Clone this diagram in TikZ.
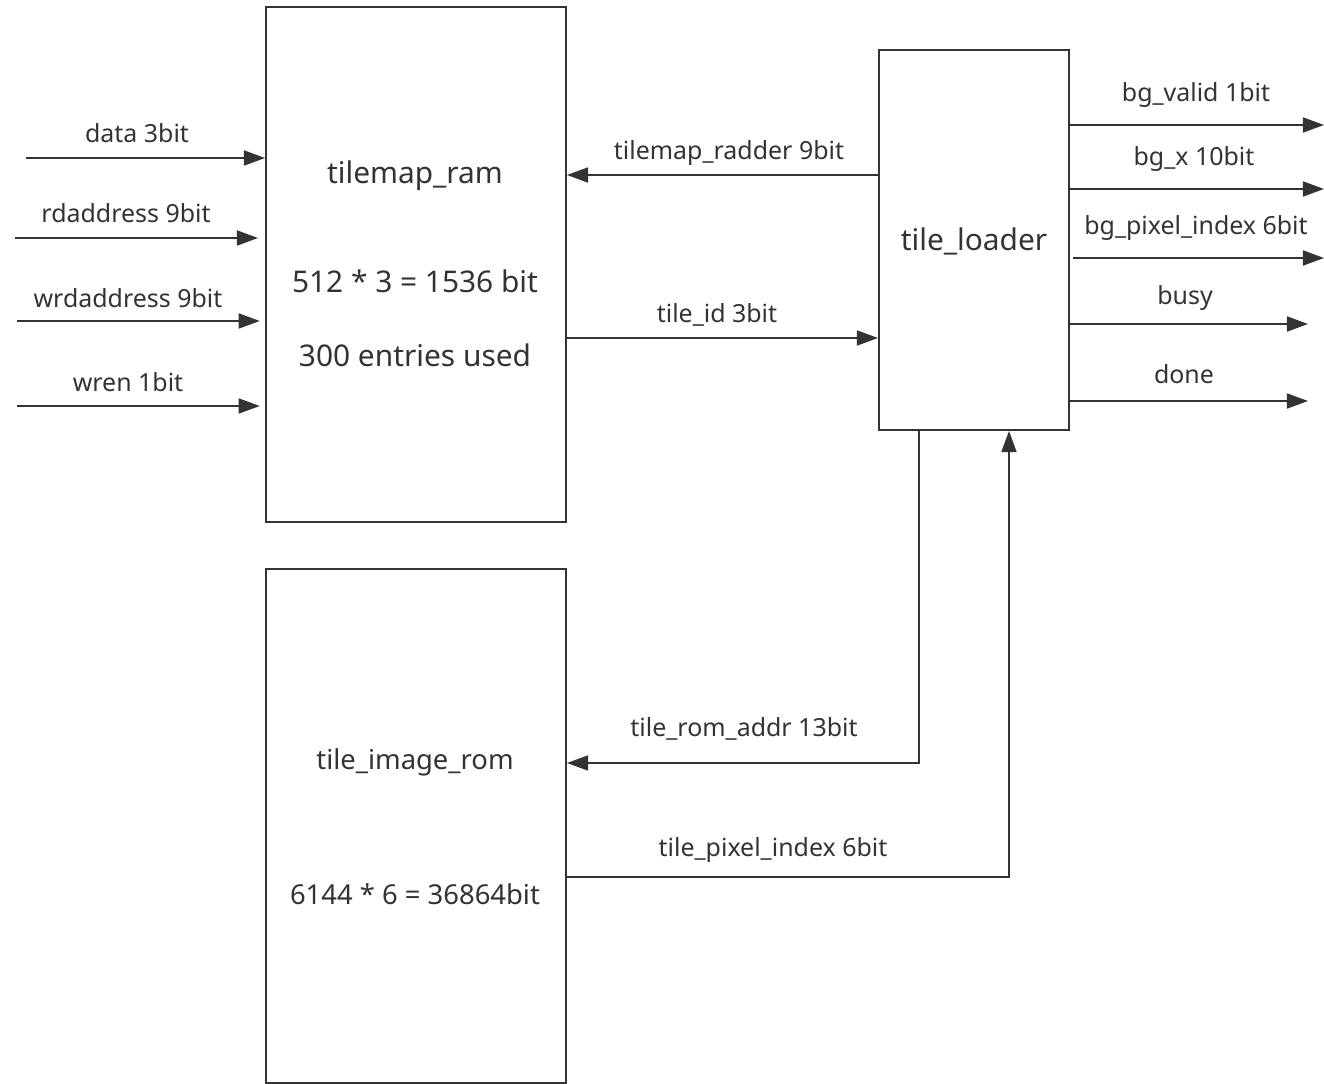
\documentclass[tikz,border=0pt]{standalone}
\usepackage{fontspec}
\setmainfont{Noto Sans}
\usetikzlibrary{arrows.meta}
\definecolor{ink}{HTML}{333333}
\tikzset{
    block/.style={draw=ink, line width=1.1pt, rectangle, inner sep=0pt},
    sig/.style={draw=ink, line width=1.1pt, -{Triangle[length=12pt,width=8.5pt]}},
    lbl/.style={text=ink, font=\fontsize{14.2}{16}\selectfont},
    big/.style={text=ink, font=\fontsize{17}{20}\selectfont},
    romtxt/.style={text=ink, font=\fontsize{15.6}{18}\selectfont}
}
\begin{document}
\begin{tikzpicture}[x=0.02cm, y=-0.02cm]
        \useasboundingbox (0,0) rectangle (1324,1084);
        % blocks
        \node[block, minimum width=6cm, minimum height=10.3cm] (ram)    at (416,264.5) {};
        \node[block, minimum width=6cm, minimum height=10.3cm] (rom)    at (416,826)   {};
        \node[block, minimum width=3.8cm, minimum height=7.6cm] (loader) at (974,240)  {};
        % block texts
        \node[big] (ramname) at (415,176) {tilemap\_ram};
        \node[big] (ramsize) at (415,281) {512 * 3 = 1536 bit};
        \node[big] (ramused) at (415,355) {300 entries used};
        \node[big] (loadername) at (974,241) {tile\_loader};
        \node[romtxt] (romname) at (415,762) {tile\_image\_rom};
        \node[romtxt] (romsize) at (415,894) {6144 * 6 = 36864bit};
        % inputs of tilemap_ram
        \coordinate (in1) at (26,158);
        \coordinate (in2) at (15,238);
        \coordinate (in3) at (17,321);
        \coordinate (in4) at (17,406);
        \draw[sig] (in1) -- (ram.west |- in1);
        \draw[sig] (in2) -- ([xshift=-4pt]ram.west |- in2);
        \draw[sig] (in3) -- ([xshift=-3pt]ram.west |- in3);
        \draw[sig] (in4) -- ([xshift=-3pt]ram.west |- in4);
        \node[lbl] (in1lbl) at (137,133) {data 3bit};
        \node[lbl] (in2lbl) at (126,213) {rdaddress 9bit};
        \node[lbl] (in3lbl) at (128,298) {wrdaddress 9bit};
        \node[lbl] (in4lbl) at (128,382) {wren 1bit};
        % tilemap_ram <-> tile_loader
        \coordinate (radder) at (0,175);
        \coordinate (tileid) at (0,338);
        \draw[sig] (loader.west |- radder) -- (ram.east |- radder);
        \draw[sig] (ram.east |- tileid) -- (loader.west |- tileid);
        \node[lbl] (radderlbl) at (729,153) {tilemap\_radder 9bit};
        \node[lbl] (tileidlbl) at (717,315) {tile\_id 3bit};
        % outputs of tile_loader
        \coordinate (out1) at (1324,125);
        \coordinate (out2) at (1324,189);
        \coordinate (out3) at (1324,258);
        \coordinate (out4) at (1308,324);
        \coordinate (out5) at (1308,401);
        \draw[sig] (loader.east |- out1) -- (out1);
        \draw[sig] (loader.east |- out2) -- (out2);
        \draw[sig] ([xshift=2pt]loader.east |- out3) -- (out3);
        \draw[sig] (loader.east |- out4) -- (out4);
        \draw[sig] (loader.east |- out5) -- (out5);
        \node[lbl] (out1lbl) at (1196,95)  {bg\_valid 1bit};
        \node[lbl] (out2lbl) at (1194,159) {bg\_x 10bit};
        \node[lbl] (out3lbl) at (1196,228) {bg\_pixel\_index 6bit};
        \node[lbl] (out4lbl) at (1185,298) {busy};
        \node[lbl] (out5lbl) at (1184,374) {done};
        % tile_loader <-> tile_image_rom
        \coordinate (romaddr) at (919,763);
        \coordinate (pixidx)  at (1009,877);
        \draw[sig] (loader.south -| romaddr) -- (romaddr) -- (rom.east |- romaddr);
        \draw[sig] (rom.east |- pixidx) -- (pixidx) -- (loader.south -| pixidx);
        \node[lbl] (romaddrlbl) at (744,729) {tile\_rom\_addr 13bit};
        \node[lbl] (pixidxlbl)  at (773,850) {tile\_pixel\_index 6bit};
    \end{tikzpicture}
\end{document}
